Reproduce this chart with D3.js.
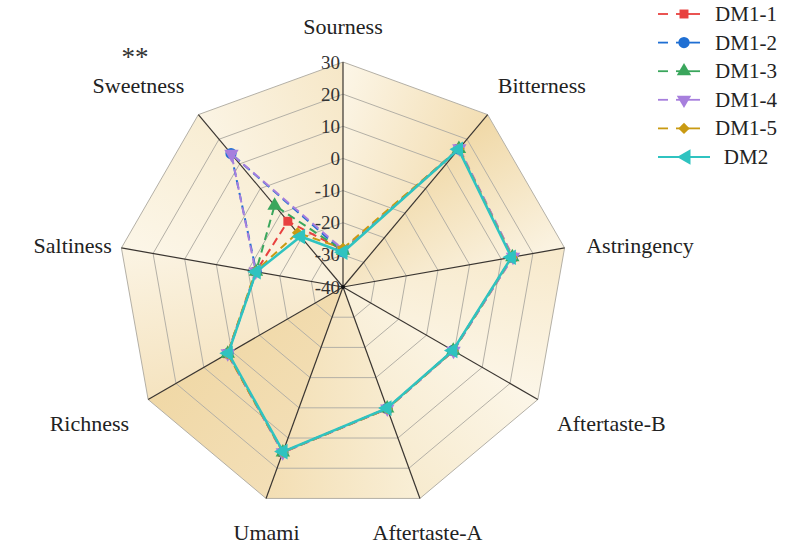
<!DOCTYPE html>
<html>
<head>
<meta charset="utf-8">
<script src="https://cdn.jsdelivr.net/npm/d3@7"></script>
<style>
  body { margin: 0; background: #fff; }
</style>
</head>
<body>
<svg id="chart" width="793" height="547" font-family="'Liberation Serif', 'Times New Roman', Times, serif"></svg>
<script>
// taste attributes, clockwise from the top
var axes = ["Sourness", "Bitterness", "Astringency", "Aftertaste-B", "Aftertaste-A",
            "Umami", "Richness", "Saltiness", "Sweetness"];
var ticks = [-40, -30, -20, -10, 0, 10, 20, 30];

var seriesNames = ["DM1-1", "DM1-2", "DM1-3", "DM1-4", "DM1-5", "DM2"];
var dm1_1 = [-28.5, 16.2, 13.6, -0.3, 0.3, 14.8, 1.5, -12.5, -13.3];
var dm1_2 = [-29.0, 16.0, 13.4, -0.5, 0.2, 14.6, 1.3, -12.6, 14.2];
var dm1_3 = [-28.7, 16.1, 13.5, -0.4, 0.2, 14.7, 1.4, -12.5, -6.9];
var dm1_4 = [-28.3, 16.3, 13.7, -0.3, 0.3, 14.8, 1.4, -12.4, 14.0];
var dm1_5 = [-28.0, 16.1, 13.4, -0.4, 0.3, 14.7, 1.5, -12.3, -18.0];
var dm2   = [-29.2, 15.9, 13.2, -0.5, 0.1, 14.5, 1.2, -12.6, -19.5];
var seriesValues = [dm1_1, dm1_2, dm1_3, dm1_4, dm1_5, dm2];

// styling
var colors  = ["#e8413f", "#1f6fd3", "#3aa65c", "#a77fdd", "#c99a12", "#2fc3c0"];
var symbols = [
  { type: d3.symbolSquare,   size: 80,  rot: 0 },
  { type: d3.symbolCircle,   size: 100, rot: 0 },
  { type: d3.symbolTriangle, size: 90,  rot: 0 },
  { type: d3.symbolTriangle, size: 90,  rot: 180 },
  { type: d3.symbolSquare,   size: 64,  rot: 45 },
  { type: d3.symbolTriangle, size: 105, rot: -90 }
];
// sector shading (0 = light cream, 1 = tan) at start / end edge, sector i spans axis i -> i+1
var sectorShade = [[0.1, 0.75], [0.9, 0.15], [0.45, 0.1], [0.1, 0.4], [0.3, 0.75],
                   [0.7, 0.9], [0.6, 0.15], [0.1, 0.35], [0.15, 0.5]];
var labelNudge = [[0, 0], [-4, -2], [0, 4], [0, 6], [0, 0], [8, 0], [0, 6], [12, 4], [0, -2]];

var cx = 343, cy = 287, R = 225;
var svg = d3.select("#chart");
var r = d3.scaleLinear().domain([-40, 30]).range([0, R]);
var angle = d3.scaleLinear().domain([0, axes.length]).range([0, 2 * Math.PI]);

function pt(i, v) {
  var a = angle(i), rr = r(v);
  return [cx + rr * Math.sin(a), cy - rr * Math.cos(a)];
}

var shade = d3.interpolateRgb("#fdfaf0", "#efd49e");
var defs = svg.append("defs");
var g = svg.append("g");

// background sectors
axes.forEach(function(d, i) {
  var j = (i + 1) % axes.length;
  var p0 = pt(i, 30), p1 = pt(j, 30);
  var grad = defs.append("linearGradient")
    .attr("id", "sec" + i)
    .attr("gradientUnits", "userSpaceOnUse")
    .attr("x1", p0[0]).attr("y1", p0[1])
    .attr("x2", p1[0]).attr("y2", p1[1]);
  grad.append("stop").attr("offset", "0%").attr("stop-color", shade(sectorShade[i][0]));
  grad.append("stop").attr("offset", "100%").attr("stop-color", shade(sectorShade[i][1]));
  g.append("path")
    .attr("d", "M" + cx + "," + cy + "L" + p0 + "L" + p1 + "Z")
    .attr("fill", "url(#sec" + i + ")")
    .attr("stroke", "none");
});

// rings
ticks.slice(1).forEach(function(t) {
  g.append("path")
    .attr("d", "M" + axes.map(function(d, i) { return pt(i, t); }).join("L") + "Z")
    .attr("fill", "none")
    .attr("stroke", "#b4b0a6")
    .attr("stroke-width", 1);
});

// spokes
axes.forEach(function(d, i) {
  var p = pt(i, 30);
  g.append("line")
    .attr("x1", cx).attr("y1", cy)
    .attr("x2", p[0]).attr("y2", p[1])
    .attr("stroke", "#3a3530")
    .attr("stroke-width", 1.2);
});

// tick labels along the top axis
g.selectAll("text.tick").data(ticks).enter().append("text")
  .attr("class", "tick")
  .attr("x", cx - 3)
  .attr("y", function(d) { return cy - r(d); })
  .attr("text-anchor", "end")
  .attr("dominant-baseline", "central")
  .style("font-size", "19px")
  .style("fill", "#333")
  .text(function(d) { return d; });

// axis labels
axes.forEach(function(d, i) {
  var a = angle(i), s = Math.sin(a);
  var rl = R + 22;
  var x = cx + rl * s + labelNudge[i][0];
  var y = cy - rl * Math.cos(a) - Math.cos(a) * 14 + labelNudge[i][1];
  var anchor = Math.abs(s) < 0.4 ? "middle" : (s > 0 ? "start" : "end");
  g.append("text")
    .attr("x", x).attr("y", y)
    .attr("text-anchor", anchor)
    .attr("dominant-baseline", "central")
    .style("font-size", "22px")
    .style("fill", "#222")
    .text(d);
});

// significance mark above Sweetness
g.append("text")
  .attr("x", 135).attr("y", 66)
  .attr("text-anchor", "middle")
  .style("font-size", "27px")
  .style("fill", "#333")
  .text("**");

// series
var line = d3.line().curve(d3.curveLinearClosed);
seriesValues.forEach(function(vals, k) {
  var pts = vals.map(function(v, i) { return pt(i, v); });
  var isDashed = k < 5;
  g.append("path")
    .attr("d", line(pts))
    .attr("fill", "none")
    .attr("stroke", colors[k])
    .attr("stroke-width", isDashed ? 2 : 2.5)
    .attr("stroke-dasharray", isDashed ? "8,5" : null);
  var sym = d3.symbol().type(symbols[k].type).size(symbols[k].size);
  g.selectAll("path.m" + k).data(pts).enter().append("path")
    .attr("class", "m" + k)
    .attr("d", sym)
    .attr("transform", function(p) { return "translate(" + p + ") rotate(" + symbols[k].rot + ")"; })
    .attr("fill", colors[k]);
});

g.append("circle").attr("cx", cx).attr("cy", cy).attr("r", 2).attr("fill", "#111");

// legend
var leg = svg.append("g");
seriesNames.forEach(function(name, k) {
  var y = 14 + k * 28.6;
  var isDashed = k < 5;
  if (isDashed) {
    leg.append("line").attr("x1", 658).attr("x2", 668).attr("y1", y).attr("y2", y)
      .attr("stroke", colors[k]).attr("stroke-width", 1.8);
    leg.append("line").attr("x1", 676).attr("x2", 700).attr("y1", y).attr("y2", y)
      .attr("stroke", colors[k]).attr("stroke-width", 1.8);
  } else {
    leg.append("line").attr("x1", 658).attr("x2", 710).attr("y1", y).attr("y2", y)
      .attr("stroke", colors[k]).attr("stroke-width", 2.2);
  }
  var sym = d3.symbol().type(symbols[k].type).size(symbols[k].size);
  leg.append("path")
    .attr("d", sym)
    .attr("transform", "translate(" + (isDashed ? 684 : 686) + "," + y + ") rotate(" + symbols[k].rot + ")")
    .attr("fill", colors[k]);
  leg.append("text")
    .attr("x", 746).attr("y", y)
    .attr("text-anchor", "middle")
    .attr("dominant-baseline", "central")
    .style("font-size", "21px")
    .style("fill", "#222")
    .text(name);
});
</script>
</body>
</html>
